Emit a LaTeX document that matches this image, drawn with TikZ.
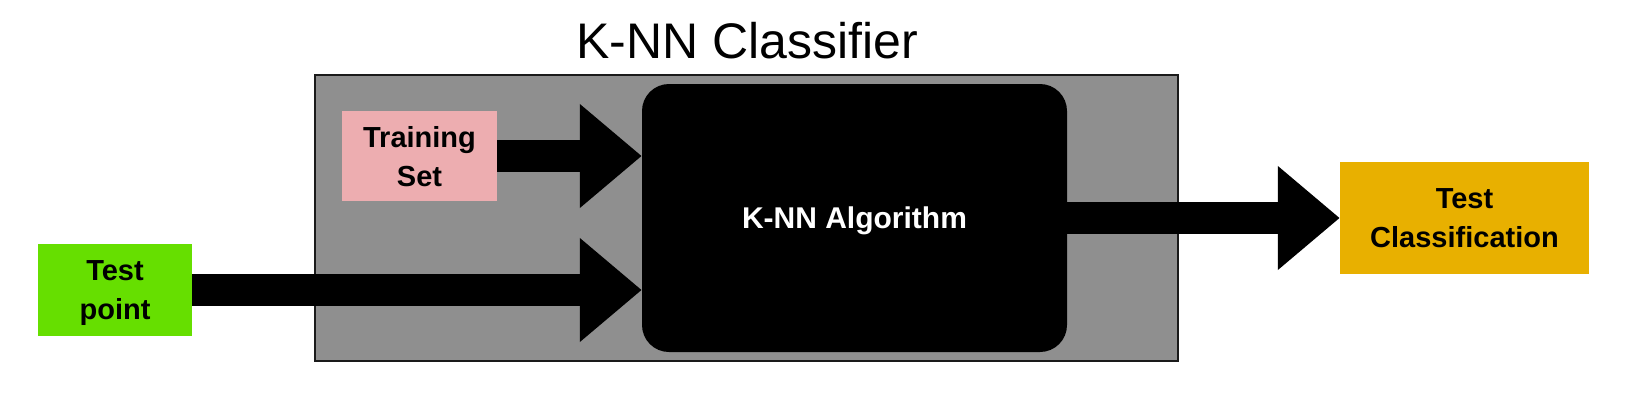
\documentclass[tikz,border=0pt]{standalone}
\usepackage{fontspec}
\setmainfont{Liberation Sans}
\usetikzlibrary{arrows.meta}
\definecolor{boxgray}{HTML}{8F8F8F}
\definecolor{bordergray}{HTML}{1A1A1A}
\definecolor{tpgreen}{HTML}{66DF00}
\definecolor{trpink}{HTML}{EDADB0}
\definecolor{tcgold}{HTML}{E8B000}
\begin{document}
\begin{tikzpicture}[x=1pt,y=-1pt,
  lbl/.style={inner sep=0pt, align=center, text depth=0pt, font=\fontsize{29}{39}\selectfont\bfseries},
  bigarrow/.style={line width=32pt, -{Triangle[length=62pt,width=100pt]}},
]
\useasboundingbox (0,0) rectangle (1630,400);
% classifier frame
\node[draw=bordergray, line width=2pt, fill=boxgray, minimum width=863pt, minimum height=286pt, inner sep=0pt] (frame) at (746.5,218) {};
\node[anchor=base, inner sep=0pt, font=\fontsize{50}{60}\selectfont] (title) at (747,58) {K-NN Classifier};
% algorithm
\node[fill=black, rounded corners=27pt, minimum width=425pt, minimum height=268pt, inner sep=0pt, text depth=0pt,
      text=white, font=\fontsize{30}{36}\selectfont\bfseries] (alg) at (854.5,218) {K-NN Algorithm};
% boxes
\node[lbl, fill=trpink, minimum width=155pt, minimum height=90pt] (tr) at (419.5,156) {Training\\Set};
\node[lbl, fill=tpgreen, minimum width=154pt, minimum height=92pt] (tp) at (115,290) {Test\\point};
\node[lbl, fill=tcgold, minimum width=249pt, minimum height=112pt] (tc) at (1464.5,218) {Test\\Classification};
% arrows
\coordinate (trin) at (alg.west |- tr.east);
\coordinate (tpin) at (alg.west |- tp.east);
\coordinate (algout) at (alg.east |- tc.west);
\draw[bigarrow] (tr.east) -- (trin);
\draw[bigarrow] (tp.east) -- (tpin);
\draw[bigarrow] (algout) -- (tc.west);
\end{tikzpicture}
\end{document}
